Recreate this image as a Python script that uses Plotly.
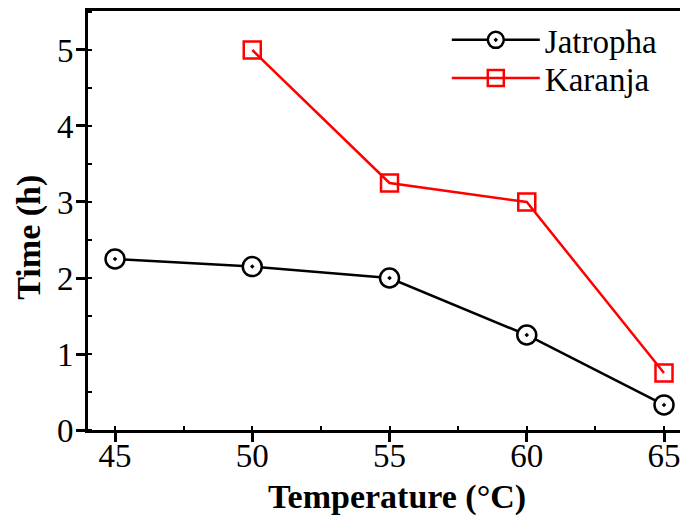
import plotly.graph_objects as go

temps_j = [45, 50, 55, 60, 65]
time_j = [2.25, 2.15, 2.0, 1.25, 0.33]
temps_k = [50, 55, 60, 65]
time_k = [5.0, 3.25, 3.0, 0.75]
x_ticks = [45, 50, 55, 60, 65]
y_ticks = [0, 1, 2, 3, 4, 5]
x_title = "Temperature (°C)"
y_title = "Time (h)"

FONT = "Liberation Serif"

fig = go.Figure()
fig.add_trace(go.Scatter(
    x=temps_j, y=time_j, mode="lines+markers", name="Jatropha",
    line=dict(color="black", width=2.5),
    marker=dict(symbol="circle-dot", size=19, color="white",
                line=dict(color="black", width=2.5)),
    legend="legend",
))
fig.add_trace(go.Scatter(
    x=temps_k, y=time_k, mode="lines+markers", name="Karanja",
    line=dict(color="#ff0000", width=2.5),
    marker=dict(symbol="square-open", size=17, color="#ff0000",
                line=dict(color="#ff0000", width=2.5)),
    legend="legend2",
))

axis_common = dict(
    showline=True, linecolor="black", linewidth=3,
    ticks="outside", ticklen=9, tickwidth=3, tickcolor="black",
    showgrid=False, zeroline=False, automargin=False,
    tickfont=dict(family=FONT, size=33, color="black"),
)

fig.update_xaxes(
    range=[44.016, 65.874], tickvals=x_ticks, mirror=True,
    ticklabelstandoff=-15,
    minor=dict(dtick=2.5, ticks="inside", ticklen=4, tickwidth=2, tickcolor="black", tick0=45),
    **axis_common,
)
fig.update_yaxes(
    range=[0, 5.513], tickvals=y_ticks, mirror=False,
    ticklabelstandoff=-4,
    minor=dict(dtick=0.5, ticks="inside", ticklen=4, tickwidth=2, tickcolor="black", tick0=0),
    **axis_common,
)

title_font = dict(family=FONT, size=34, color="black")
fig.add_annotation(text="<b>" + x_title + "</b>", xref="paper", yref="paper",
                   x=0.515, y=-0.16, xanchor="center", yanchor="middle",
                   showarrow=False, font=title_font)
fig.add_annotation(text="<b>" + y_title + "</b>", xref="paper", yref="paper",
                   x=-0.0983, y=0.459, xanchor="center", yanchor="middle",
                   textangle=-90, showarrow=False, font=title_font)

leg_common = dict(xanchor="left", yanchor="middle",
                  font=dict(family=FONT, size=33, color="black"),
                  bgcolor="rgba(0,0,0,0)", itemwidth=88)

fig.update_layout(
    width=680, height=512,
    margin=dict(l=80, r=0, t=3, b=90),
    plot_bgcolor="white", paper_bgcolor="white",
    showlegend=True,
    legend=dict(x=0.598, y=0.931, **leg_common),
    legend2=dict(x=0.598, y=0.840, **leg_common),
)

fig.write_html("out.html")
